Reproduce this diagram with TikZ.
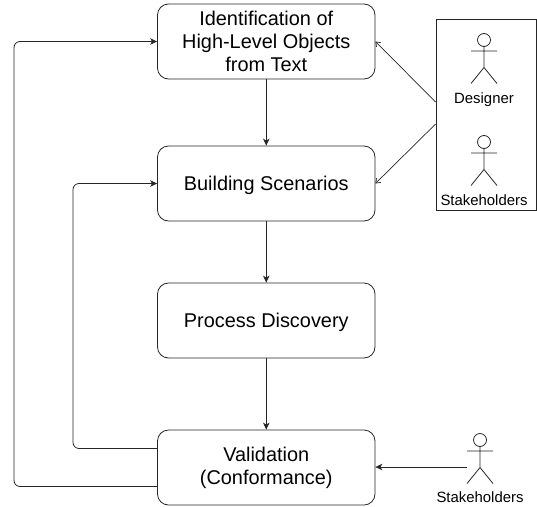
\documentclass[tikz,border=0pt]{standalone}
\usepackage{fontspec}
\setmainfont{Liberation Sans}
\usetikzlibrary{arrows.meta,calc}
\tikzset{
  x=1pt,y=-1pt,
  stepbox/.style={draw=black!85,line width=0.8pt,rounded corners=11pt,minimum width=217.5pt,minimum height=75pt,inner sep=0pt,align=center,font=\fontsize{19.9}{23}\selectfont,execute at begin node={\rule{0pt}{17.5pt}}},
  conn/.style={draw=black!85,line width=0.8pt,-{Stealth[length=7pt,width=6.5pt,inset=2pt]}},
  openconn/.style={draw=black!85,line width=0.7pt,-{Straight Barb[length=4pt,width=6pt]}},
  loopconn/.style={conn,rounded corners=6pt},
  actorlabel/.style={font=\fontsize{14.9}{17}\selectfont,inner sep=0pt},
  actorline/.style={draw=black!85,line width=0.8pt},
  actorgroup/.style={draw=black!85,line width=0.8pt,minimum width=100.5pt,minimum height=191pt,inner sep=0pt},
  pics/actor/.style={code={
    \draw[actorline] (0,0) circle (6.5pt);
    \draw[actorline] (0,6.5) -- (0,27.5) (-13,11) -- (13,11) (-13,43.5) -- (0,27.5) -- (13,43.5);
  }}
}
\begin{document}
\begin{tikzpicture}
\useasboundingbox (0,0) rectangle (537,506);
\node[stepbox] (ident) at (266.25,41.5) {Identification of\\High-Level Objects\\from Text};
\node[stepbox] (build) at (266.25,183.5) {Building Scenarios};
\node[stepbox] (disc) at (266.25,320.5) {Process Discovery};
\node[stepbox] (valid) at (266.25,467.5) {Validation\\(Conformance)};
\node[actorgroup] (group) at (486.25,114.5) {};
\pic at (484,40) {actor};
\node[actorlabel] (designer) at (484,99.5) {Designer};
\pic at (484,142) {actor};
\node[actorlabel] (stakeone) at (484,200) {Stakeholders};
\pic at (480,440) {actor};
\node[actorlabel] (staketwo) at (480,497) {Stakeholders};
\coordinate (groupa) at (group.west |- 0,102);
\coordinate (groupb) at (group.west |- 0,124);
\coordinate (actorbody) at (467,467);
\coordinate (validtop) at ($(valid.west)+(0,-19)$);
\coordinate (validbot) at ($(valid.west)+(0,19)$);
\draw[conn] (ident) -- (build);
\draw[conn] (build) -- (disc);
\draw[conn] (disc) -- (valid);
\draw[openconn] (groupa) -- (ident.east);
\draw[openconn] (groupb) -- (build.east);
\draw[conn] (actorbody) -- (actorbody -| valid.east);
\draw[loopconn] (validtop) -- (73,448.5) -- (73,183.5) -- (build.west);
\draw[loopconn] (validbot) -- (14,486.5) -- (14,41.5) -- (ident.west);
\end{tikzpicture}
\end{document}
